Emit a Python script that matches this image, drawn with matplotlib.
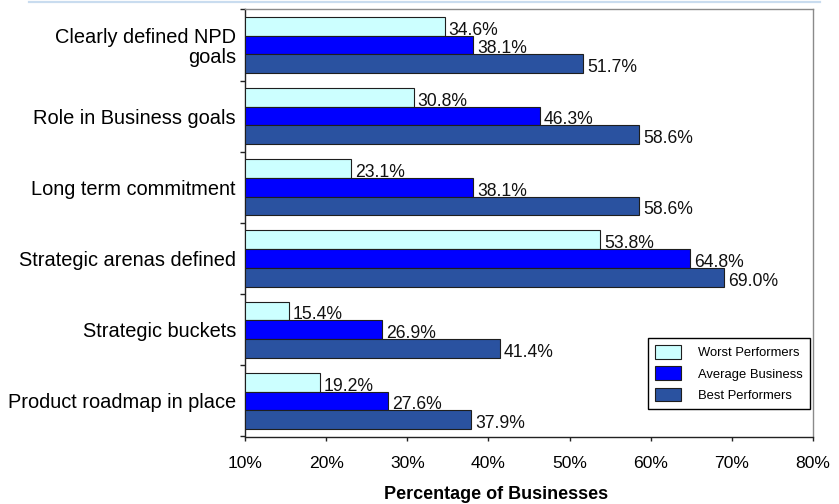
import matplotlib
matplotlib.use("Agg")
import matplotlib.pyplot as plt
from matplotlib.lines import Line2D
import numpy as np

plt.rcParams['font.family'] = ['Liberation Sans', 'DejaVu Sans']

# Data
categories = [
    "Clearly defined NPD\ngoals",
    "Role in Business goals",
    "Long term commitment",
    "Strategic arenas defined",
    "Strategic buckets",
    "Product roadmap in place",
]
worst_performers = [34.6, 30.8, 23.1, 53.8, 15.4, 19.2]
average_business = [38.1, 46.3, 38.1, 64.8, 26.9, 27.6]
best_performers = [51.7, 58.6, 58.6, 69.0, 41.4, 37.9]
series_names = ["Worst Performers", "Average Business", "Best Performers"]
x_ticks = [10, 20, 30, 40, 50, 60, 70, 80]

W, H = 839, 504
fig = plt.figure(figsize=(W / 100, H / 100), dpi=100)
ax = fig.add_axes([245 / W, 1 - 436.5 / H, (813 - 245) / W, (436.5 - 9.3) / H])

colors = ["#CCFFFF", "#0000FF", "#2A52A0"]
series = [worst_performers, average_business, best_performers]
bar_h = 0.264
y = np.arange(len(categories))
offsets = [-bar_h, 0, bar_h]

for vals, off, col, name in zip(series, offsets, colors, series_names):
    pos = y + off
    ax.barh(pos, np.array(vals) - 10, left=10, height=bar_h, color=col,
            edgecolor="#1e1e1e", linewidth=0.8, label=name, zorder=3)
    for p, v in zip(pos, vals):
        ax.annotate(f"{v:.1f}%", xy=(v, p + bar_h / 2), xycoords="data",
                    xytext=(4, 1), textcoords="offset pixels",
                    ha="left", va="baseline", fontsize=12.7, color="#111111",
                    zorder=4)

ax.set_xlim(10, 80)
ax.set_ylim(len(categories) - 0.5, -0.5)

ax.set_xticks(x_ticks)
ax.set_xticklabels([f"{t}%" for t in x_ticks], fontsize=12.6)
ax.tick_params(axis="x", direction="out", length=3.2, width=1, pad=10.8,
               color="#222222")

ax.set_yticks(y)
ax.set_yticklabels(categories, fontsize=14.4, linespacing=1.1)
ax.tick_params(axis="y", which="major", length=0, pad=6.5)
ax.set_yticks(np.arange(-0.5, len(categories)), minor=True)
ax.tick_params(axis="y", which="minor", direction="out", length=3.6,
               width=1, color="#222222")
for lbl in ax.get_yticklabels():
    lbl.set_horizontalalignment("right")
    lbl.set_multialignment("right")

for side in ("left", "bottom"):
    ax.spines[side].set_color("#222222")
    ax.spines[side].set_linewidth(1)
for side in ("top", "right"):
    ax.spines[side].set_color("#8a8a8a")
    ax.spines[side].set_linewidth(1)

ax.set_xlabel("Percentage of Businesses", fontsize=13, fontweight="bold")
ax.xaxis.set_label_coords((496.5 - 245) / (813 - 245), -(486 - 436.5) / (436.5 - 9.3))

leg = ax.legend(loc="upper left", bbox_to_anchor=(648 / W, 1 - 338 / H),
                bbox_transform=fig.transFigure, borderaxespad=0,
                fontsize=9.4, handlelength=2.0, handleheight=1.23,
                handletextpad=1.28, labelspacing=0.54, borderpad=0.55,
                fancybox=False, framealpha=1, edgecolor="black")
leg.get_frame().set_linewidth(1)

# Decorative rule along the top of the figure
fig.add_artist(Line2D([29 / W, 820 / W], [1 - 1.5 / H, 1 - 1.5 / H],
                      transform=fig.transFigure, color="#c9dcef", linewidth=1.6))

fig.savefig("out.png", dpi=100)
